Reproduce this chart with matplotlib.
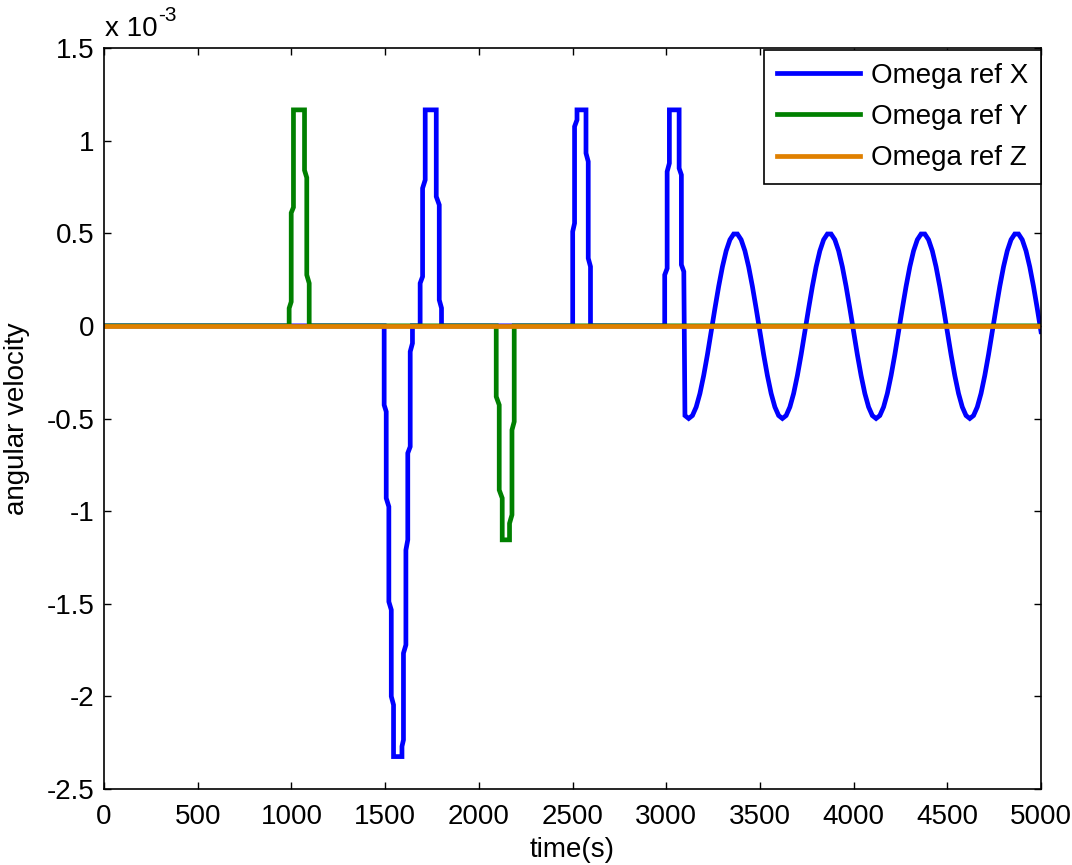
import numpy as np
import matplotlib
matplotlib.use("Agg")
import matplotlib.pyplot as plt
from matplotlib.ticker import FuncFormatter

plt.rcParams['font.family'] = ['Liberation Sans', 'DejaVu Sans']
plt.rcParams['axes.unicode_minus'] = False

# Reference angular velocities, in units of 1e-3 rad/s
# Omega ref X: slew pulses (time, value) followed by a sampled oscillation
x_pulse_t = [0, 1495, 1495, 1506, 1506, 1520, 1520, 1533, 1533, 1545, 1545,
             1590, 1590, 1598, 1598, 1611, 1611, 1621, 1621, 1634, 1634, 1646, 1646,
             1687, 1687, 1700, 1700, 1714, 1714, 1773, 1773, 1789, 1789, 1801, 1801,
             2501, 2501, 2511, 2511, 2524, 2524, 2572, 2572, 2584, 2584, 2596, 2596,
             2992, 2992, 3005, 3005, 3017, 3017, 3069, 3069, 3081, 3081, 3094]
x_pulse_v = [0, 0, -0.427, -0.463, -0.930, -0.976, -1.489, -1.533, -2.000, -2.046, -2.325,
             -2.325, -2.270, -2.235, -1.767, -1.722, -1.210, -1.155, -0.687, -0.652, -0.139, -0.094, 0,
             0, 0.230, 0.266, 0.743, 0.788, 1.166, 1.166, 0.698, 0.653, 0.140, 0.096, 0,
             0, 0.509, 0.554, 1.076, 1.112, 1.166, 1.166, 0.932, 0.887, 0.365, 0.320, 0,
             0, 0.275, 0.310, 0.833, 0.878, 1.166, 1.166, 0.851, 0.815, 0.330, 0.293]

# Oscillation samples every 20 s from t = 3100 s to 5000 s
x_osc_t = np.arange(3100, 5001, 20)
x_osc_v = [-0.484,
           -0.500, -0.484, -0.438, -0.365, -0.268, -0.155, -0.031, 0.094, 0.213, 0.319,
           0.405, 0.465, 0.496, 0.496, 0.465, 0.405, 0.319, 0.213, 0.094, -0.031,
           -0.155, -0.268, -0.365, -0.438, -0.484,
           -0.500, -0.484, -0.438, -0.365, -0.268, -0.155, -0.031, 0.094, 0.213, 0.319,
           0.405, 0.465, 0.496, 0.496, 0.465, 0.405, 0.319, 0.213, 0.094, -0.031,
           -0.155, -0.268, -0.365, -0.438, -0.484,
           -0.500, -0.484, -0.438, -0.365, -0.268, -0.155, -0.031, 0.094, 0.213, 0.319,
           0.405, 0.465, 0.496, 0.496, 0.465, 0.405, 0.319, 0.213, 0.094, -0.031,
           -0.155, -0.268, -0.365, -0.438, -0.484,
           -0.500, -0.484, -0.438, -0.365, -0.268, -0.155, -0.031, 0.094, 0.213, 0.319,
           0.405, 0.465, 0.496, 0.496, 0.465, 0.405, 0.319, 0.213, 0.094, -0.031]

# Omega ref Y: two slew pulses
y_t = [0, 988, 988, 999, 999, 1011, 1011, 1070, 1070, 1082, 1082, 1095, 1095,
       2093, 2093, 2109, 2109, 2125, 2125, 2164, 2164, 2177, 2177, 2189, 2189, 5000]
y_v = [0, 0, 0.095, 0.130, 0.610, 0.640, 1.166, 1.166, 0.840, 0.800, 0.275, 0.230, 0,
       0, -0.382, -0.427, -0.886, -0.930, -1.155, -1.155, -1.066, -1.020, -0.562, -0.517, 0, 0]

# Omega ref Z: held at zero
z_t = [0, 5000]
z_v = [0, 0]

labels = ['Omega ref X', 'Omega ref Y', 'Omega ref Z']
colors = ['#0000FF', '#008000', '#E08000']
xticks = [0, 500, 1000, 1500, 2000, 2500, 3000, 3500, 4000, 4500, 5000]
yticks = [-2.5, -2, -1.5, -1, -0.5, 0, 0.5, 1, 1.5]

fs = 20
lw = 3.4

fig = plt.figure(figsize=(10.72, 8.65), dpi=100)
ax = fig.add_axes([104 / 1072, 1 - 789 / 865, (1041 - 104) / 1072, (789 - 48) / 865])

x_t = list(x_pulse_t) + list(x_osc_t)
x_v = list(x_pulse_v) + list(x_osc_v)
ax.plot(x_t, x_v, color=colors[0], lw=lw, label=labels[0], solid_joinstyle='miter')
ax.plot(y_t, y_v, color=colors[1], lw=lw, label=labels[1], solid_joinstyle='miter')
ax.plot(z_t, z_v, color=colors[2], lw=lw, label=labels[2])

ax.set_xlim(0, 5000)
ax.set_ylim(-2.5, 1.5)
ax.set_xticks(xticks)
ax.set_yticks(yticks)
ax.xaxis.set_major_formatter(FuncFormatter(lambda v, p: '%g' % v))
ax.yaxis.set_major_formatter(FuncFormatter(lambda v, p: '%g' % v))
ax.tick_params(direction='in', length=5, width=1, labelsize=fs, top=True, right=True)
ax.tick_params(axis='x', pad=11)
ax.tick_params(axis='y', pad=7)
for s in ax.spines.values():
    s.set_linewidth(1.2)

ax.set_xlabel('time(s)', fontsize=fs, labelpad=5)
ax.set_ylabel('angular velocity', fontsize=fs, labelpad=12)

# exponent marker above the y axis
ax.annotate('x 10', xy=(0, 1), xycoords='axes fraction', xytext=(1, 12),
            textcoords='offset pixels', fontsize=fs, ha='left', va='baseline')
ax.annotate('-3', xy=(0, 1), xycoords='axes fraction', xytext=(54, 27),
            textcoords='offset pixels', fontsize=15, ha='left', va='baseline')

leg = ax.legend(loc='upper right', fontsize=fs, frameon=True, fancybox=False,
                borderaxespad=0, handlelength=3.0, handletextpad=0.4,
                labelspacing=0.55, borderpad=0.45, bbox_to_anchor=(1.0, 0.997))
leg.get_frame().set_edgecolor('black')
leg.get_frame().set_linewidth(1.2)
leg.get_frame().set_alpha(1)

fig.savefig('out.png', dpi=100)
